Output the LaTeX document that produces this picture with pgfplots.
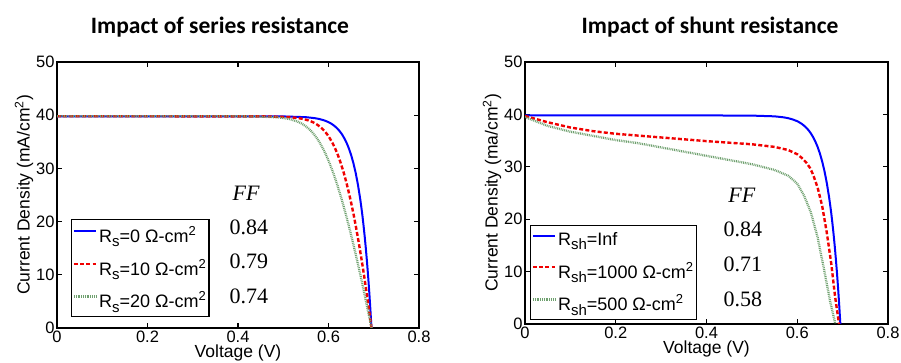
\documentclass[border=0pt]{standalone}
\usepackage{pgfplots}
\pgfplotsset{compat=1.18}
\usepackage{fontspec}
\setmainfont{Liberation Sans}
\newfontfamily\titlefont{Carlito}
\newfontfamily\timesfont{Liberation Serif}
\definecolor{cblue}{RGB}{0,0,255}
\definecolor{cred}{RGB}{240,0,0}
\definecolor{cgreen}{RGB}{110,160,110}
\newcommand{\sub}[1]{\raisebox{-0.45ex}{\fontsize{15bp}{15bp}\selectfont #1}}
\newcommand{\sq}{\raisebox{0.75ex}{\fontsize{13bp}{13bp}\selectfont 2}}
\pgfplotsset{
  jvstyle/.style={
    scale only axis,
    xmin=0, xmax=0.8, ymin=0, ymax=50,
    xtick={0,0.2,0.4,0.6,0.8},
    xticklabels={0,0.2,0.4,0.6,0.8},
    ytick={0,10,20,30,40,50},
    tick align=inside,
    major tick length=5bp,
    axis line style={line width=1.5bp},
    every tick/.style={black,line width=1.2bp},
    /pgf/number format/assume math mode=true,
    tick label style={font=\fontsize{16.5bp}{16.5bp}\selectfont},
    yticklabel style={xshift=1bp},
    xticklabel style={yshift=1bp},
    label style={font=\fontsize{17.5bp}{17.5bp}\selectfont},
    xlabel style={at={(axis description cs:0.5,0)},anchor=center,yshift=-25bp},
    ylabel style={at={(axis description cs:0,0.5)},anchor=center,yshift=33bp},
    legend cell align=left,
    legend style={font=\fontsize{18bp}{18bp}\selectfont, draw=black, line width=1.3bp,
      row sep=11bp, inner xsep=1bp, inner ysep=5bp},
    legend image code/.code={\draw[##1] (0bp,4bp) -- (22bp,4bp);},
  },
  sblue/.style={cblue, line width=2bp},
  sred/.style={cred, line width=2.4bp, dash pattern=on 4bp off 2.2bp},
  sgreen/.style={cgreen, line width=2.3bp, dash pattern=on 0.9bp off 0.9bp},
}
\begin{document}
\begin{tikzpicture}
\useasboundingbox (0,0) rectangle (901bp,363bp);
% ---------- left ----------
\begin{axis}[jvstyle, at={(57bp,35bp)}, anchor=south west,
  width=362bp, height=266bp,
  xlabel={Voltage (V)}, ylabel={Current Density (mA/cm\textsuperscript{2})},
  legend style={at={(0.039,0.041)}, anchor=south west}]
\addplot[sblue] coordinates {(0,39.8)(0.45,39.79)(0.5,39.77)(0.55,39.63)(0.57,39.44)(0.58,39.28)(0.59,39.04)(0.60,38.70)(0.605,38.47)(0.61,38.19)(0.615,37.85)(0.62,37.45)(0.625,36.97)(0.63,36.38)(0.635,35.66)(0.64,34.80)(0.645,33.77)(0.65,32.52)(0.655,31.0)(0.66,29.18)(0.665,26.97)(0.67,24.3)(0.6725,22.77)(0.675,21.1)(0.6775,19.22)(0.68,17.2)(0.6825,14.97)(0.685,12.5)(0.6875,9.81)(0.69,6.86)(0.6925,3.58)(0.695,0)};
\addlegendentry{R\sub{s}=0 Ω-cm\sq}
\addplot[sred] coordinates {(0,39.8)(0.414,39.79)(0.464,39.77)(0.514,39.63)(0.5345,39.44)(0.5446,39.28)(0.5549,39.04)(0.5652,38.70)(0.5704,38.47)(0.5756,38.19)(0.5809,37.85)(0.5863,37.45)(0.5917,36.97)(0.5973,36.38)(0.6029,35.66)(0.6087,34.80)(0.6146,33.77)(0.6207,32.52)(0.6271,31.0)(0.6337,29.18)(0.6407,26.97)(0.6481,24.3)(0.652,22.77)(0.656,21.1)(0.6602,19.22)(0.6645,17.2)(0.669,14.97)(0.6738,12.5)(0.6787,9.81)(0.6838,6.86)(0.6893,3.58)(0.695,0)};
\addlegendentry{R\sub{s}=10 Ω-cm\sq}
\addplot[sgreen] coordinates {(0,39.8)(0.3824,39.79)(0.4324,39.77)(0.4826,39.63)(0.503,39.44)(0.5132,39.28)(0.5236,39.04)(0.5342,38.70)(0.5396,38.47)(0.5451,38.19)(0.5507,37.85)(0.5563,37.45)(0.5622,36.97)(0.5682,36.38)(0.5744,35.66)(0.5808,34.80)(0.5876,33.77)(0.5947,32.52)(0.6023,31.0)(0.6104,29.18)(0.6192,26.97)(0.6287,24.3)(0.6338,22.77)(0.6391,21.1)(0.6448,19.22)(0.6508,17.2)(0.6571,14.97)(0.6638,12.5)(0.6708,9.81)(0.6783,6.86)(0.6864,3.58)(0.695,0)};
\addlegendentry{R\sub{s}=20 Ω-cm\sq}
\node[font=\timesfont\itshape\fontsize{22bp}{22bp}\selectfont] at (axis cs:0.418,25.4) {FF};
\node[font=\timesfont\fontsize{22bp}{22bp}\selectfont] at (axis cs:0.424,19.0) {0.84};
\node[font=\timesfont\fontsize{22bp}{22bp}\selectfont] at (axis cs:0.424,12.5) {0.79};
\node[font=\timesfont\fontsize{22bp}{22bp}\selectfont] at (axis cs:0.424,6.0) {0.74};
\end{axis}
% ---------- right ----------
\begin{axis}[jvstyle, at={(525bp,39bp)}, anchor=south west,
  width=363bp, height=262bp,
  xlabel={Voltage (V)}, ylabel={Current Density (ma/cm\textsuperscript{2})},
  legend style={at={(0.014,0.015)}, anchor=south west}]
\addplot[sblue] coordinates {(0,39.8)(0.45,39.79)(0.5,39.77)(0.55,39.63)(0.57,39.44)(0.58,39.28)(0.59,39.04)(0.60,38.70)(0.605,38.47)(0.61,38.19)(0.615,37.85)(0.62,37.45)(0.625,36.97)(0.63,36.38)(0.635,35.66)(0.64,34.80)(0.645,33.77)(0.65,32.52)(0.655,31.0)(0.66,29.18)(0.665,26.97)(0.67,24.3)(0.6725,22.77)(0.675,21.1)(0.6775,19.22)(0.68,17.2)(0.6825,14.97)(0.685,12.5)(0.6875,9.81)(0.69,6.86)(0.6925,3.58)(0.695,0)};
\addlegendentry{R\sub{sh}=Inf}
\addplot[sred] coordinates {(0,39.7)(0.05,38.5)(0.1,37.5)(0.15,36.8)(0.2,36.3)(0.3,35.6)(0.4,34.9)(0.5,34.3)(0.55,33.8)(0.58,33.2)(0.60,32.4)(0.61,31.7)(0.62,30.8)(0.628,29.8)(0.635,28.5)(0.645,26.0)(0.655,22.5)(0.665,17.5)(0.675,11.5)(0.683,5.5)(0.692,0)};
\addlegendentry{R\sub{sh}=1000 Ω-cm\sq}
\addplot[sgreen] coordinates {(0,39.5)(0.05,37.8)(0.1,36.7)(0.15,35.9)(0.2,35.1)(0.25,34.5)(0.3,33.7)(0.35,32.9)(0.4,32.1)(0.45,31.3)(0.5,30.5)(0.55,29.4)(0.58,28.3)(0.60,26.8)(0.615,24.5)(0.63,21.3)(0.645,16.5)(0.66,10.0)(0.672,4.5)(0.684,0)};
\addlegendentry{R\sub{sh}=500 Ω-cm\sq}
\node[font=\timesfont\itshape\fontsize{22bp}{22bp}\selectfont] at (axis cs:0.478,24.5) {FF};
\node[font=\timesfont\fontsize{22bp}{22bp}\selectfont] at (axis cs:0.48,18.0) {0.84};
\node[font=\timesfont\fontsize{22bp}{22bp}\selectfont] at (axis cs:0.48,11.3) {0.71};
\node[font=\timesfont\fontsize{22bp}{22bp}\selectfont] at (axis cs:0.48,4.8) {0.58};
\end{axis}
\node[font=\titlefont\bfseries\fontsize{23.5bp}{23.5bp}\selectfont] at (220bp,336bp) {Impact of series resistance};
\node[font=\titlefont\bfseries\fontsize{23.5bp}{23.5bp}\selectfont] at (710bp,336bp) {Impact of shunt resistance};
\end{tikzpicture}
\end{document}
